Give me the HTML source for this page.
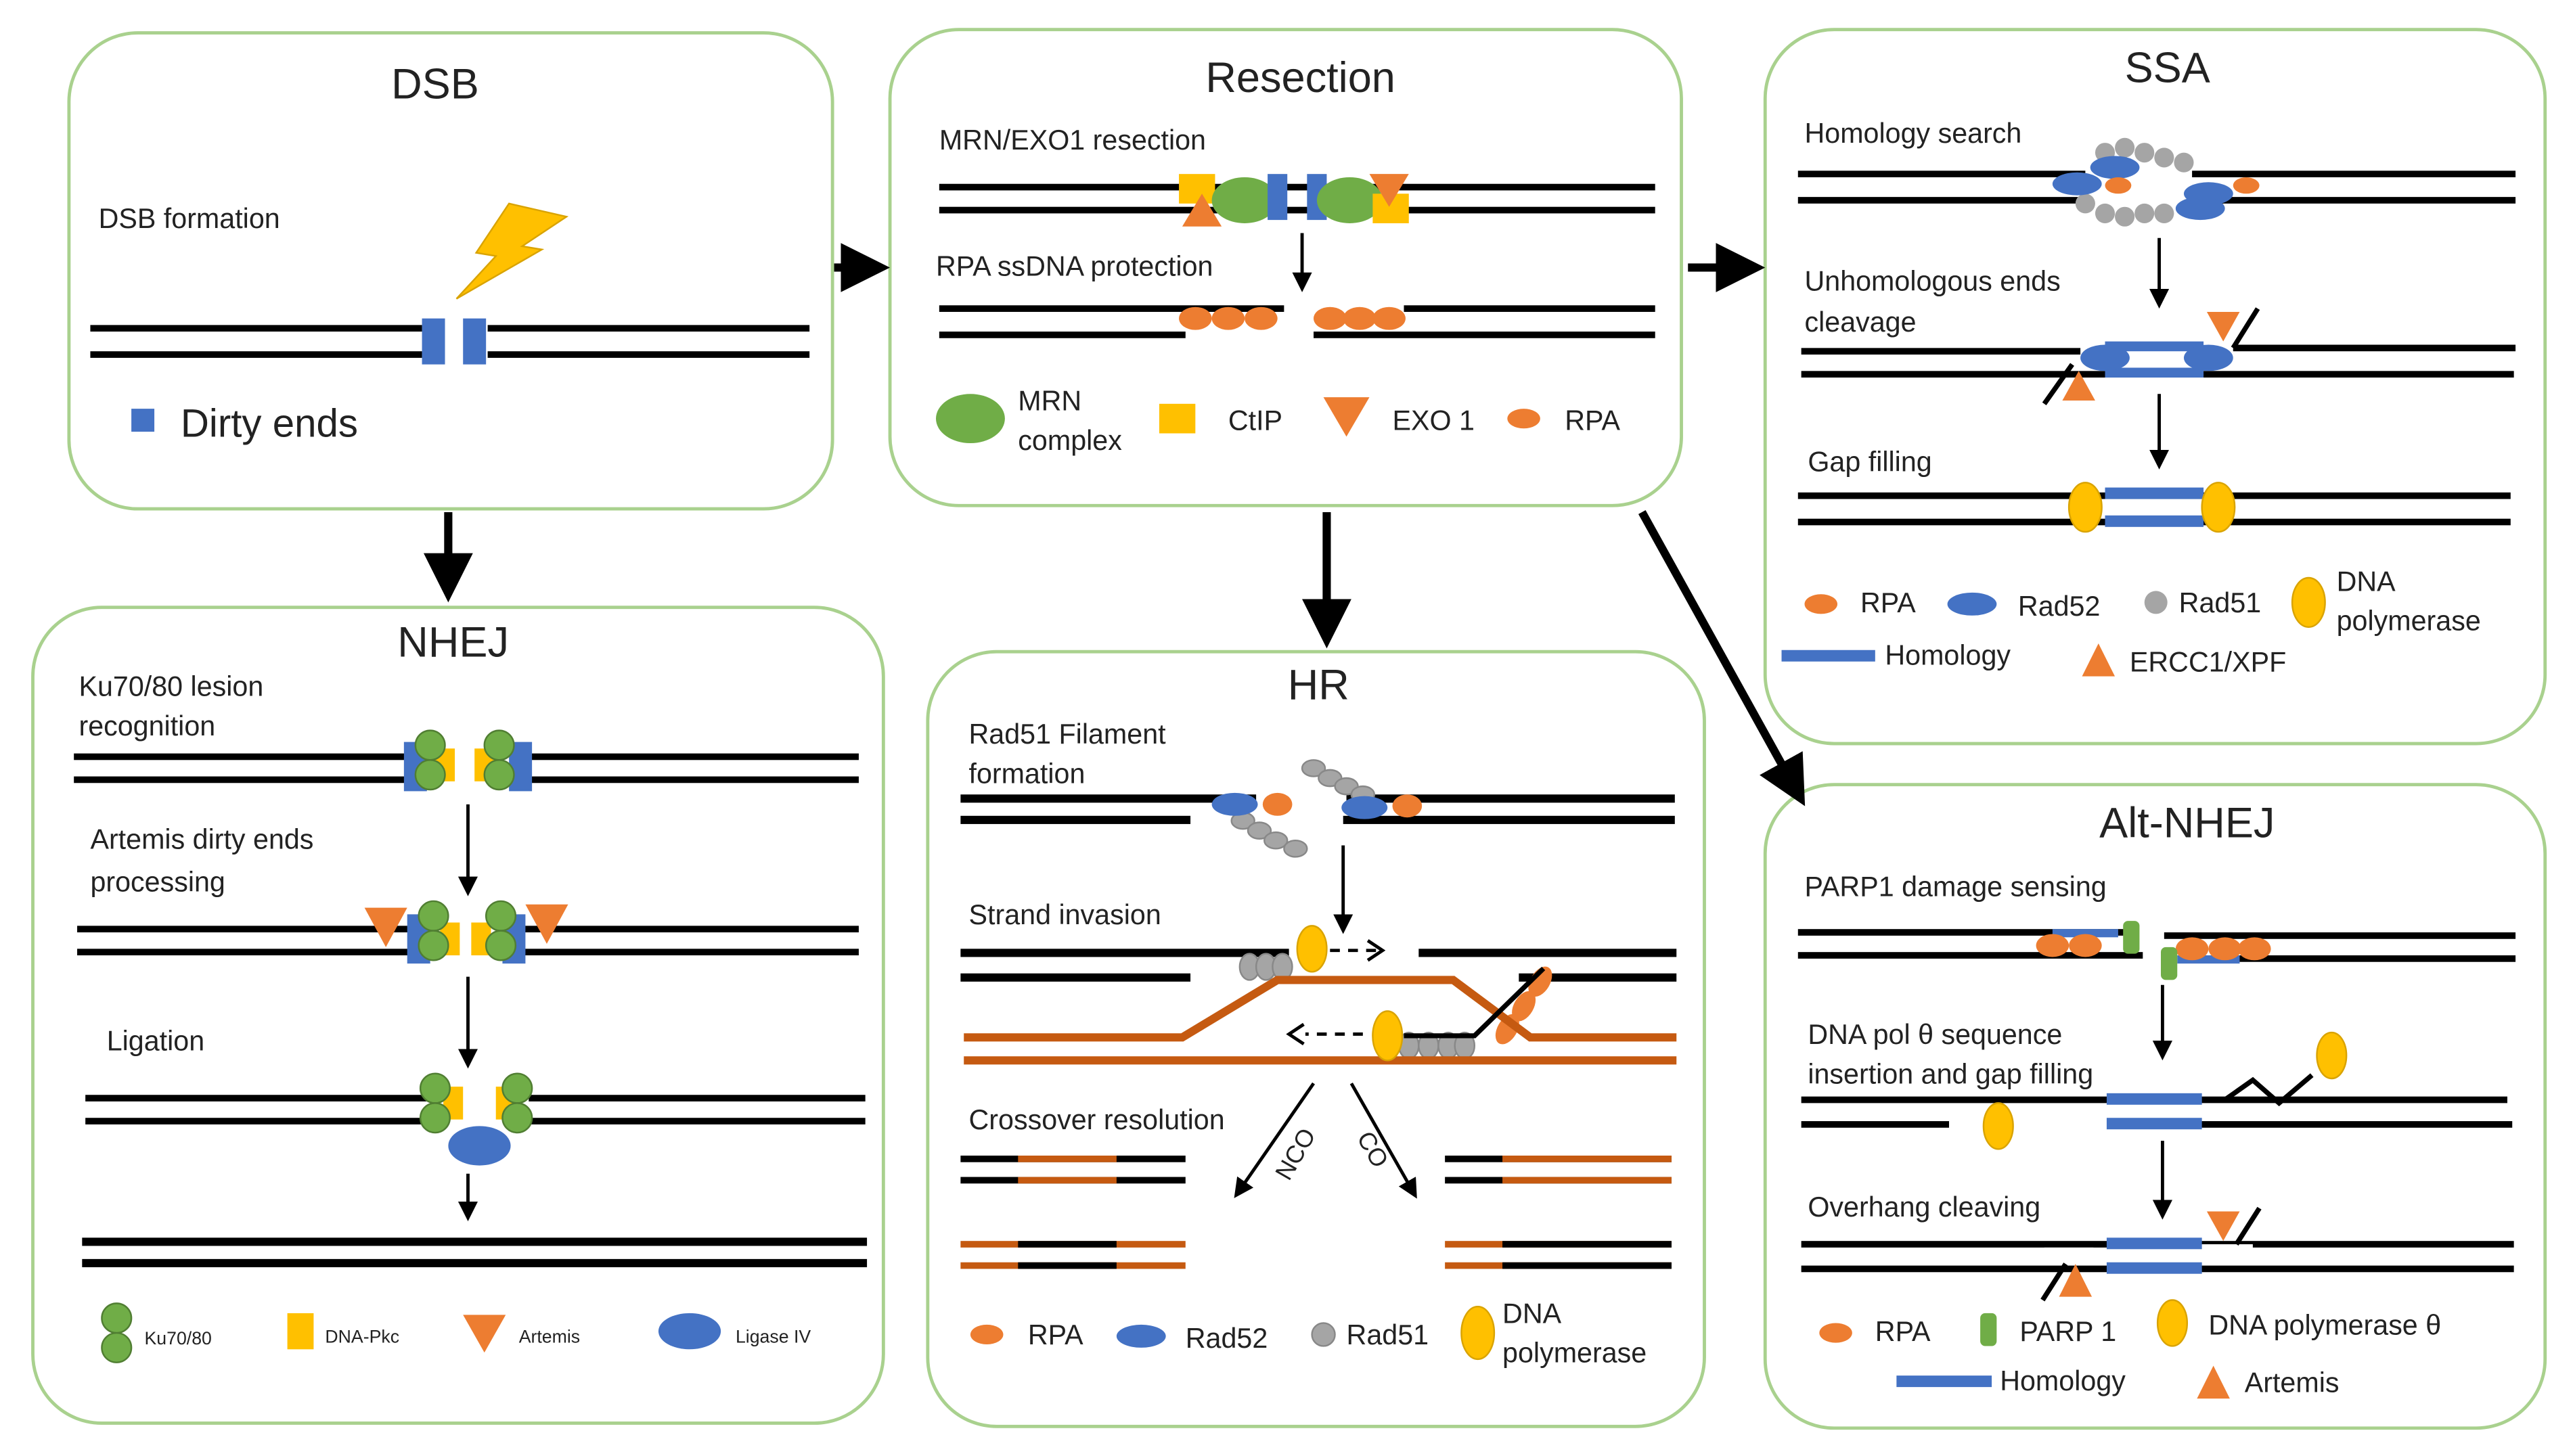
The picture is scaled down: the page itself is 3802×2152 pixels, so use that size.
<!DOCTYPE html>
<html><head><meta charset="utf-8"><style>
html,body{margin:0;padding:0;background:#fff;}
svg{display:block;}
text{font-family:"Liberation Sans","DejaVu Sans",sans-serif;fill:#222;}
</style></head><body>
<svg width="3802" height="2152" viewBox="0 0 1567 887" preserveAspectRatio="none" xmlns="http://www.w3.org/2000/svg">
<defs>
<marker id="ah" markerWidth="6" markerHeight="6" refX="3" refY="3" orient="auto" markerUnits="strokeWidth"><path d="M0,0 L6,3 L0,6 z" fill="#000"/></marker>
<g id="ku"><circle cx="0" cy="0" r="9" fill="#70ad47" stroke="#507e32"/><circle cx="0" cy="18" r="9" fill="#70ad47" stroke="#507e32"/></g>
</defs>
<g fill="none" stroke="#a9d18e" stroke-width="2">
<rect x="42" y="20" width="465" height="290" rx="42"/>
<rect x="542" y="18" width="482" height="290" rx="42"/>
<rect x="1075" y="18" width="475" height="435" rx="42"/>
<rect x="20" y="370" width="518" height="497" rx="42"/>
<rect x="565" y="397" width="473" height="472" rx="42"/>
<rect x="1075" y="478" width="475" height="392" rx="42"/>
</g>
<g stroke="#000" stroke-width="5">
<line x1="273" y1="312" x2="273" y2="352" marker-end="url(#ah)"/>
<line x1="508" y1="163" x2="527" y2="163" marker-end="url(#ah)"/>
<line x1="1028" y1="163" x2="1060" y2="163" marker-end="url(#ah)"/>
<line x1="808" y1="312" x2="808" y2="380" marker-end="url(#ah)"/>
<line x1="1000" y1="312" x2="1092" y2="478" marker-end="url(#ah)"/>
</g>
<g font-size="26" text-anchor="middle">
<text x="265" y="60">DSB</text><text x="792" y="56">Resection</text><text x="1320" y="50">SSA</text>
<text x="276" y="400">NHEJ</text><text x="803" y="426">HR</text><text x="1332" y="510">Alt-NHEJ</text>
</g>
<g font-size="17">
<text x="60" y="139">DSB formation</text>
<text x="110" y="266" font-size="24">Dirty ends</text>
</g>
<g fill="#000">
<rect x="55" y="198" width="202" height="4"/><rect x="55" y="214" width="202" height="4"/>
<rect x="297" y="198" width="196" height="4"/><rect x="297" y="214" width="196" height="4"/>
</g>
<g fill="#4472c4"><rect x="257" y="194" width="14" height="28"/><rect x="282" y="194" width="14" height="28"/><rect x="80" y="249" width="14" height="14"/></g>
<path d="M310,124 L345,132 L318,150 L330,152 L278,182 L302,156 L290,154 Z" fill="#ffc000" stroke="#d9a300"/>
<g font-size="17"><text x="572" y="91">MRN/EXO1 resection</text><text x="570" y="168">RPA ssDNA protection</text>
<text x="620" y="250">MRN</text><text x="620" y="274">complex</text><text x="748" y="262">CtIP</text><text x="848" y="262">EXO 1</text><text x="953" y="262">RPA</text></g>
<g fill="#000"><rect x="572" y="112" width="436" height="4"/><rect x="572" y="126" width="436" height="4"/>
<rect x="572" y="186" width="210" height="4"/><rect x="572" y="202" width="150" height="4"/>
<rect x="800" y="202" width="208" height="4"/><rect x="855" y="186" width="153" height="4"/></g>
<rect x="718" y="106" width="22" height="18" fill="#ffc000"/><ellipse cx="758" cy="122" rx="20" ry="14" fill="#70ad47"/><rect x="772" y="106" width="12" height="28" fill="#4472c4"/>
<path d="M720,138 L732,118 L744,138Z" fill="#ed7d31"/>
<rect x="796" y="106" width="12" height="28" fill="#4472c4"/><ellipse cx="822" cy="122" rx="20" ry="14" fill="#70ad47"/><rect x="836" y="118" width="22" height="18" fill="#ffc000"/>
<path d="M834,106 L858,106 L846,126Z" fill="#ed7d31"/>
<line x1="793" y1="142" x2="793" y2="172" stroke="#000" stroke-width="2" marker-end="url(#ah)"/>
<g fill="#ed7d31"><ellipse cx="728" cy="194" rx="10" ry="7"/><ellipse cx="748" cy="194" rx="10" ry="7"/><ellipse cx="768" cy="194" rx="10" ry="7"/>
<ellipse cx="810" cy="194" rx="10" ry="7"/><ellipse cx="828" cy="194" rx="10" ry="7"/><ellipse cx="846" cy="194" rx="10" ry="7"/>
<ellipse cx="928" cy="255" rx="10" ry="6"/><path d="M806,242 L834,242 L820,266Z"/></g>
<ellipse cx="591" cy="255" rx="21" ry="15" fill="#70ad47"/><rect x="706" y="246" width="22" height="18" fill="#ffc000"/>
<g font-size="17"><text x="1099" y="87">Homology search</text><text x="1099" y="177">Unhomologous ends</text><text x="1099" y="202">cleavage</text><text x="1101" y="287">Gap filling</text>
<text x="1133" y="373">RPA</text><text x="1229" y="375">Rad52</text><text x="1327" y="373">Rad51</text><text x="1423" y="360">DNA</text><text x="1423" y="384">polymerase</text>
<text x="1148" y="405">Homology</text><text x="1297" y="409">ERCC1/XPF</text></g>
<g fill="#000"><rect x="1095" y="104" width="175" height="4"/><rect x="1095" y="120" width="175" height="4"/><rect x="1335" y="104" width="197" height="4"/><rect x="1335" y="120" width="197" height="4"/>
<rect x="1097" y="212" width="170" height="4"/><rect x="1097" y="226" width="434" height="4"/><rect x="1360" y="210" width="172" height="4"/>
<rect x="1095" y="300" width="434" height="4"/><rect x="1095" y="316" width="434" height="4"/></g>
<g fill="#a5a5a5"><circle cx="1282" cy="93" r="6"/><circle cx="1294" cy="90" r="6"/><circle cx="1306" cy="93" r="6"/><circle cx="1318" cy="96" r="6"/><circle cx="1330" cy="99" r="6"/><circle cx="1270" cy="124" r="6"/><circle cx="1282" cy="130" r="6"/><circle cx="1294" cy="132" r="6"/><circle cx="1306" cy="130" r="6"/><circle cx="1318" cy="130" r="6"/></g>
<g fill="#4472c4"><ellipse cx="1288" cy="102" rx="15" ry="7"/><ellipse cx="1265" cy="112" rx="15" ry="7"/><ellipse cx="1345" cy="118" rx="15" ry="7"/><ellipse cx="1340" cy="127" rx="15" ry="7"/>
<rect x="1282" y="208" width="60" height="6"/><rect x="1282" y="224" width="60" height="6"/><ellipse cx="1282" cy="218" rx="15" ry="8"/><ellipse cx="1345" cy="218" rx="15" ry="8"/>
<rect x="1282" y="297" width="60" height="7"/><rect x="1282" y="314" width="60" height="7"/><ellipse cx="1201" cy="368" rx="15" ry="7"/><rect x="1085" y="396" width="57" height="7"/></g>
<g fill="#ed7d31"><ellipse cx="1290" cy="113" rx="8" ry="5"/><ellipse cx="1368" cy="113" rx="8" ry="5"/><ellipse cx="1109" cy="368" rx="10" ry="6"/>
<path d="M1344,190 L1364,190 L1354,208Z"/><path d="M1256,244 L1276,244 L1266,226Z"/><path d="M1268,412 L1288,412 L1278,392Z"/></g>
<line x1="1360" y1="212" x2="1375" y2="188" stroke="#000" stroke-width="3"/><line x1="1245" y1="246" x2="1262" y2="222" stroke="#000" stroke-width="3"/>
<g fill="#ffc000" stroke="#d9a300"><ellipse cx="1270" cy="309" rx="10" ry="15"/><ellipse cx="1351" cy="309" rx="10" ry="15"/><ellipse cx="1406" cy="367" rx="10" ry="15"/></g>
<circle cx="1313" cy="367" r="7" fill="#a5a5a5"/>
<g stroke="#000" stroke-width="2"><line x1="1315" y1="145" x2="1315" y2="182" marker-end="url(#ah)"/><line x1="1315" y1="240" x2="1315" y2="280" marker-end="url(#ah)"/></g>
<g font-size="17"><text x="48" y="424">Ku70/80 lesion</text><text x="48" y="448">recognition</text><text x="55" y="517">Artemis dirty ends</text><text x="55" y="543">processing</text><text x="65" y="640">Ligation</text></g>
<g font-size="11"><text x="88" y="819">Ku70/80</text><text x="198" y="818">DNA-Pkc</text><text x="316" y="818">Artemis</text><text x="448" y="818">Ligase IV</text></g>
<g fill="#000"><rect x="45" y="459" width="205" height="4"/><rect x="45" y="473" width="205" height="4"/><rect x="320" y="459" width="203" height="4"/><rect x="320" y="473" width="203" height="4"/>
<rect x="47" y="564" width="205" height="4"/><rect x="47" y="578" width="205" height="4"/><rect x="318" y="564" width="205" height="4"/><rect x="318" y="578" width="205" height="4"/>
<rect x="52" y="667" width="210" height="4"/><rect x="52" y="681" width="210" height="4"/><rect x="322" y="667" width="205" height="4"/><rect x="322" y="681" width="205" height="4"/>
<rect x="50" y="754" width="478" height="5"/><rect x="50" y="767" width="478" height="5"/></g>
<g fill="#4472c4"><rect x="246" y="452" width="14" height="30"/><rect x="310" y="452" width="14" height="30"/><rect x="248" y="557" width="14" height="30"/><rect x="306" y="557" width="14" height="30"/>
<ellipse cx="292" cy="698" rx="19" ry="12"/><ellipse cx="420" cy="811" rx="19" ry="11"/></g>
<g fill="#ffc000"><rect x="265" y="456" width="12" height="20"/><rect x="289" y="456" width="12" height="20"/><rect x="268" y="562" width="12" height="20"/><rect x="287" y="562" width="12" height="20"/>
<rect x="270" y="662" width="12" height="20"/><rect x="302" y="662" width="12" height="20"/><rect x="175" y="800" width="16" height="22"/></g>
<use href="#ku" x="262" y="454"/><use href="#ku" x="304" y="454"/><use href="#ku" x="264" y="558"/><use href="#ku" x="305" y="558"/><use href="#ku" x="265" y="663"/><use href="#ku" x="315" y="663"/><use href="#ku" x="71" y="803"/>
<g fill="#ed7d31"><path d="M222,553 L248,553 L235,577Z"/><path d="M320,551 L346,551 L333,575Z"/><path d="M282,801 L308,801 L295,824Z"/></g>
<g stroke="#000" stroke-width="2"><line x1="285" y1="490" x2="285" y2="540" marker-end="url(#ah)"/><line x1="285" y1="595" x2="285" y2="645" marker-end="url(#ah)"/><line x1="285" y1="715" x2="285" y2="738" marker-end="url(#ah)"/></g>
<g font-size="17"><text x="590" y="453">Rad51 Filament</text><text x="590" y="477">formation</text><text x="590" y="563">Strand invasion</text><text x="590" y="688">Crossover resolution</text>
<text x="626" y="819">RPA</text><text x="722" y="821">Rad52</text><text x="820" y="819">Rad51</text><text x="915" y="806">DNA</text><text x="915" y="830">polymerase</text>
<text x="0" y="0" font-size="15" transform="translate(785,720) rotate(-60)">NCO</text><text x="0" y="0" font-size="15" transform="translate(826,693) rotate(60)">CO</text></g>
<g fill="#000"><rect x="585" y="484" width="180" height="5"/><rect x="585" y="497" width="140" height="5"/><rect x="820" y="484" width="200" height="5"/><rect x="818" y="497" width="202" height="5"/>
<rect x="585" y="578" width="200" height="5"/><rect x="585" y="593" width="140" height="5"/><rect x="864" y="578" width="157" height="5"/><rect x="925" y="593" width="96" height="5"/></g>
<g fill="#a5a5a5" stroke="#888"><ellipse cx="800" cy="468" rx="7" ry="5"/><ellipse cx="810" cy="474" rx="7" ry="5"/><ellipse cx="820" cy="479" rx="7" ry="5"/><ellipse cx="830" cy="484" rx="7" ry="5"/>
<ellipse cx="757" cy="500" rx="7" ry="5"/><ellipse cx="767" cy="506" rx="7" ry="5"/><ellipse cx="777" cy="512" rx="7" ry="5"/><ellipse cx="789" cy="517" rx="7" ry="5"/>
<ellipse cx="761" cy="589" rx="6" ry="8"/><ellipse cx="771" cy="589" rx="6" ry="8"/><ellipse cx="781" cy="589" rx="6" ry="8"/>
<ellipse cx="858" cy="637" rx="6" ry="8"/><ellipse cx="870" cy="637" rx="6" ry="8"/><ellipse cx="882" cy="637" rx="6" ry="8"/><ellipse cx="892" cy="637" rx="6" ry="8"/><circle cx="806" cy="813" r="7"/></g>
<g fill="#4472c4"><ellipse cx="752" cy="490" rx="14" ry="7"/><ellipse cx="831" cy="492" rx="14" ry="7"/><ellipse cx="695" cy="814" rx="15" ry="7"/></g>
<g fill="#ed7d31"><ellipse cx="778" cy="490" rx="9" ry="7"/><ellipse cx="857" cy="491" rx="9" ry="7"/><ellipse cx="601" cy="813" rx="10" ry="6"/>
<ellipse cx="938" cy="598" rx="6" ry="10" transform="rotate(30 938 598)"/><ellipse cx="928" cy="613" rx="6" ry="10" transform="rotate(30 928 613)"/><ellipse cx="918" cy="627" rx="6" ry="10" transform="rotate(30 918 627)"/></g>
<g fill="none" stroke="#c55a11" stroke-width="5"><path d="M587,632 L720,632 L778,597 L885,597 L932,632 L1021,632"/><line x1="587" y1="646" x2="1021" y2="646"/></g>
<path d="M855,631 L898,631 L940,590" fill="none" stroke="#000" stroke-width="3"/>
<g fill="#ffc000" stroke="#d9a300"><ellipse cx="799" cy="578" rx="9" ry="14"/><ellipse cx="845" cy="631" rx="9" ry="15"/><ellipse cx="900" cy="812" rx="10" ry="16"/></g>
<g stroke="#000" stroke-width="2" fill="none"><line x1="818" y1="515" x2="818" y2="563" marker-end="url(#ah)"/>
<path d="M810,579 L840,579" stroke-dasharray="6,5"/><path d="M833,573 L842,579 L833,585"/>
<path d="M830,630 L795,630" stroke-dasharray="6,5"/><path d="M794,624 L785,630 L794,636"/>
<line x1="800" y1="660" x2="755" y2="725" marker-end="url(#ah)"/><line x1="823" y1="660" x2="860" y2="725" marker-end="url(#ah)"/></g>
<g><rect x="585" y="704" width="137" height="4" fill="#000"/><rect x="620" y="704" width="60" height="4" fill="#c55a11"/><rect x="585" y="717" width="137" height="4" fill="#000"/><rect x="620" y="717" width="60" height="4" fill="#c55a11"/>
<rect x="585" y="756" width="137" height="4" fill="#c55a11"/><rect x="620" y="756" width="60" height="4" fill="#000"/><rect x="585" y="769" width="137" height="4" fill="#c55a11"/><rect x="620" y="769" width="60" height="4" fill="#000"/>
<rect x="880" y="704" width="138" height="4" fill="#000"/><rect x="915" y="704" width="103" height="4" fill="#c55a11"/><rect x="880" y="717" width="138" height="4" fill="#000"/><rect x="915" y="717" width="103" height="4" fill="#c55a11"/>
<rect x="880" y="756" width="138" height="4" fill="#c55a11"/><rect x="915" y="756" width="103" height="4" fill="#000"/><rect x="880" y="769" width="138" height="4" fill="#c55a11"/><rect x="915" y="769" width="103" height="4" fill="#000"/></g>
<g font-size="17"><text x="1099" y="546">PARP1 damage sensing</text><text x="1101" y="636">DNA pol θ sequence</text><text x="1101" y="660">insertion and gap filling</text><text x="1101" y="741">Overhang cleaving</text>
<text x="1142" y="817">RPA</text><text x="1230" y="817">PARP 1</text><text x="1345" y="813">DNA polymerase θ</text><text x="1218" y="847">Homology</text><text x="1367" y="848">Artemis</text></g>
<g fill="#000"><rect x="1095" y="566" width="200" height="4"/><rect x="1095" y="580" width="210" height="4"/><rect x="1318" y="568" width="214" height="4"/><rect x="1340" y="582" width="192" height="4"/>
<rect x="1097" y="668" width="430" height="4"/><rect x="1097" y="683" width="90" height="4"/><rect x="1340" y="683" width="190" height="4"/>
<rect x="1097" y="756" width="434" height="4"/><rect x="1097" y="771" width="434" height="4"/></g>
<path d="M1340,670 L1355,670 L1372,658 L1388,672 L1408,655" fill="none" stroke="#000" stroke-width="3"/>
<rect x="1245" y="760" width="30" height="6" fill="#fff"/><rect x="1340" y="758" width="32" height="6" fill="#fff"/>
<g fill="#4472c4"><rect x="1250" y="566" width="40" height="5"/><rect x="1326" y="582" width="38" height="5"/><rect x="1283" y="666" width="58" height="7"/><rect x="1283" y="681" width="58" height="7"/>
<rect x="1283" y="754" width="58" height="7"/><rect x="1283" y="769" width="58" height="7"/><rect x="1155" y="838" width="58" height="7"/></g>
<g fill="#ed7d31"><ellipse cx="1250" cy="576" rx="10" ry="7"/><ellipse cx="1270" cy="576" rx="10" ry="7"/><ellipse cx="1335" cy="578" rx="10" ry="7"/><ellipse cx="1355" cy="578" rx="10" ry="7"/><ellipse cx="1373" cy="578" rx="10" ry="7"/>
<ellipse cx="1118" cy="812" rx="10" ry="6"/><path d="M1344,738 L1364,738 L1354,756Z"/><path d="M1254,790 L1274,790 L1264,770Z"/><path d="M1338,852 L1358,852 L1348,832Z"/></g>
<g fill="#70ad47"><rect x="1293" y="561" width="10" height="20" rx="3"/><rect x="1316" y="577" width="10" height="20" rx="3"/><rect x="1206" y="800" width="10" height="20" rx="3"/></g>
<line x1="1362" y1="758" x2="1376" y2="736" stroke="#000" stroke-width="3"/><line x1="1244" y1="792" x2="1258" y2="770" stroke="#000" stroke-width="3"/>
<g fill="#ffc000" stroke="#d9a300"><ellipse cx="1217" cy="686" rx="9" ry="14"/><ellipse cx="1420" cy="643" rx="9" ry="14"/><ellipse cx="1323" cy="806" rx="9" ry="14"/></g>
<g stroke="#000" stroke-width="2"><line x1="1317" y1="600" x2="1317" y2="640" marker-end="url(#ah)"/><line x1="1317" y1="695" x2="1317" y2="737" marker-end="url(#ah)"/></g>
</svg>
</body></html>
